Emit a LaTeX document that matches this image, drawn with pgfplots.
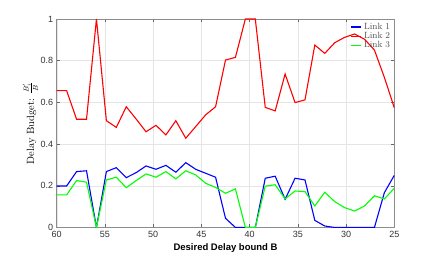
\documentclass[border=0pt]{standalone}
\usepackage{fontspec}
\setsansfont{Liberation Sans}
\usepackage{pgfplots}
\usepackage{pgfplotstable}
\pgfplotsset{compat=1.18}
\pgfplotstableread{
x L1 L2 L3
60.00 0.199 0.656 0.156
58.97 0.199 0.656 0.156
57.94 0.268 0.519 0.225
56.91 0.272 0.519 0.217
55.88 0.000 1.000 0.000
54.85 0.268 0.512 0.228
53.82 0.287 0.480 0.241
52.79 0.239 0.579 0.191
51.76 0.263 0.520 0.225
50.74 0.295 0.459 0.257
49.71 0.279 0.490 0.241
48.68 0.298 0.444 0.268
47.65 0.265 0.512 0.233
46.62 0.311 0.428 0.272
45.59 0.279 0.484 0.252
44.56 0.260 0.540 0.212
43.53 0.241 0.579 0.192
42.50 0.044 0.803 0.164
41.47 0.000 0.816 0.185
40.44 0.000 1.000 0.000
39.41 0.000 1.000 0.000
38.38 0.236 0.576 0.198
37.35 0.246 0.559 0.205
36.32 0.135 0.736 0.137
35.29 0.236 0.599 0.175
34.26 0.228 0.612 0.172
33.24 0.034 0.875 0.103
32.21 0.007 0.835 0.169
31.18 0.000 0.886 0.124
30.15 0.000 0.912 0.095
29.12 0.000 0.928 0.079
28.09 0.000 0.903 0.103
27.06 0.000 0.851 0.152
26.03 0.167 0.720 0.137
25.00 0.250 0.574 0.188
}\datatable
\begin{document}
\begin{tikzpicture}
\begin{axis}[
  scale only axis,
  width=337.6pt, height=208.5pt,
  x dir=reverse,
  xmin=25, xmax=60, ymin=0, ymax=1,
  xtick={25,30,...,60},
  ytick={0,0.2,0.4,0.6,0.8,1},
  yticklabels={0,0.2,0.4,0.6,0.8,1},
  xticklabels={25,30,35,40,45,50,55,60},
  xtick align=inside, ytick align=inside,
  major tick length=3pt,
  tick style={black!60, line width=0.5pt},
  axis line style={black!45, line width=0.6pt},
  grid=major,
  grid style={black!10, line width=0.4pt},
  tick label style={font=\sffamily\fontsize{9}{10}\selectfont, text=black!80},
  /pgf/number format/assume math mode=true,
  xlabel={\sffamily\bfseries\fontsize{9.5}{11}\selectfont Desired Delay bound B},
  ylabel={\fontsize{10.5}{12}\selectfont Delay Budget: $\frac{B_i'}{B}$},
  xlabel style={yshift=1pt},
  ylabel style={yshift=-4pt},
  legend style={at={(rel axis cs:1,1)}, anchor=north east, draw=none, fill=none,
    font=\fontsize{9}{10}\selectfont, row sep=-2.5pt, inner sep=2pt},
  legend cell align=left,
  legend image code/.code={\draw[#1] (0cm,0cm) -- (0.38cm,0cm);},
  clip=true,
]
\addplot[color=blue, line width=1.1pt] table[x=x, y=L1] {\datatable};
\addlegendentry{\textcolor{black!70}{Link 1}}
\addplot[color=red, line width=1.1pt] table[x=x, y=L2] {\datatable};
\addlegendentry{\textcolor{black!70}{Link 2}}
\addplot[color=green, line width=1.1pt] table[x=x, y=L3] {\datatable};
\addlegendentry{\textcolor{black!70}{Link 3}}
\coordinate (bbl) at (rel axis cs:-0.168,-0.132);
\coordinate (btr) at (rel axis cs:1.1235,1.091);
\end{axis}
\path (bbl) rectangle (btr);
\end{tikzpicture}
\end{document}
